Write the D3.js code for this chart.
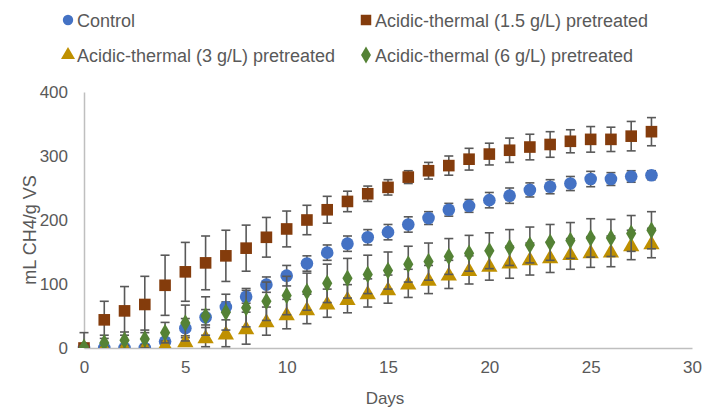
<!DOCTYPE html>
<html><head><meta charset="utf-8">
<script src="https://cdn.jsdelivr.net/npm/d3@7"></script>
<style>body{margin:0;background:#fff}svg text{font-family:"Liberation Sans",Arial,sans-serif;fill:#595959}</style>
</head><body><svg id="c" width="705" height="408"></svg>
<script>
const days = d3.range(0, 29);
const control = [0,0,0,0,10,31,48,64,80,99,113,132,149,163,173,181,193,203,216,222,231,238,247,252,257,264,264,268,270];
const controlErr = [2,2,2,3,5,15,12,8,10,12,16,12,12,12,12,12,12,10,10,10,12,12,11,11,11,12,10,9,7];
const acid15 = [0,44,58,68,98,119,133,144,156,173,186,200,216,229,241,251,267,277,285,295,303,309,314,318,323,326,326,331,338];
const acid15Err = [24,29,38,44,47,46,42,40,36,31,28,23,21,16,12,12,10,13,15,17,17,19,20,20,18,20,19,23,22];
const acid3 = [0,0,1,1,5,11,17,23,31,42,53,61,70,77,86,92,101,107,115,122,129,134,139,142,147,150,151,161,164];
const acid3Err = [2,2,3,4,6,8,15,21,25,22,23,23,22,22,22,22,22,22,22,22,23,25,25,24,24,24,24,23,23];
const acid6 = [1,8,12,14,24,39,50,56,63,73,82,88,101,109,115,121,131,135,143,148,152,157,161,165,168,172,172,179,184];
const acid6Err = [3,12,13,14,16,28,30,28,30,30,30,29,30,31,30,29,28,29,28,28,28,28,28,28,28,30,29,28,29];
const xTicks = [0,5,10,15,20,25,30];
const yTicks = [0,100,200,300,400];
const seriesNames = ["Control","Acidic-thermal (1.5 g/L) pretreated","Acidic-thermal (3 g/L) pretreated","Acidic-thermal (6 g/L) pretreated"];
const colors = ["#4472C4","#843C0C","#BF9000","#548235"];
const symbols = [d3.symbolCircle, d3.symbolSquare, d3.symbolTriangle, d3.symbolDiamond];
const symSizes = [125, 135, 115, 90];

const series = [
  {vals: control, err: controlErr},
  {vals: acid15, err: acid15Err},
  {vals: acid3, err: acid3Err},
  {vals: acid6, err: acid6Err}
];

const svg = d3.select("#c");
const x = d3.scaleLinear().domain([0,30]).range([84,692]);
const y = d3.scaleLinear().domain([0,400]).range([348,92]);

svg.append("defs").append("clipPath").attr("id","clip")
  .append("rect").attr("x",60).attr("y",60).attr("width",645).attr("height",288);

// axes
const xAxis = svg.append("g").attr("transform",`translate(0,${y(0)})`)
  .call(d3.axisBottom(x).tickValues(xTicks).tickSize(0).tickPadding(13));
xAxis.select(".domain").attr("stroke","#bfbfbf").attr("stroke-width",1.5);
xAxis.selectAll("text").style("font-size","17px").attr("fill","#595959");

const yAxis = svg.append("g").attr("transform",`translate(${x(0)},0)`)
  .call(d3.axisLeft(y).tickValues(yTicks).tickSize(0).tickPadding(16));
yAxis.select(".domain").attr("stroke","#bfbfbf").attr("stroke-width",1.5);
yAxis.selectAll("text").style("font-size","17px").attr("fill","#595959");

// series
const plot = svg.append("g").attr("clip-path","url(#clip)");
series.forEach((s, i) => {
  const g = plot.append("g");
  const eb = g.selectAll("g.eb").data(days).join("g").attr("class","eb");
  eb.append("line").attr("x1",d=>x(d)).attr("x2",d=>x(d))
    .attr("y1",d=>y(s.vals[d]+s.err[d])).attr("y2",d=>y(s.vals[d]-s.err[d]))
    .attr("stroke","#595959").attr("stroke-width",1.6);
  [1,-1].forEach(sg => {
    eb.append("line").attr("x1",d=>x(d)-4.5).attr("x2",d=>x(d)+4.5)
      .attr("y1",d=>y(s.vals[d]+sg*s.err[d])).attr("y2",d=>y(s.vals[d]+sg*s.err[d]))
      .attr("stroke","#595959").attr("stroke-width",1.6);
  });
  g.selectAll("path.m").data(days).join("path").attr("class","m")
    .attr("d", d3.symbol().type(symbols[i]).size(symSizes[i]))
    .attr("transform", d => `translate(${x(d)},${y(s.vals[d]) + (i===2?1.5:0)})`)
    .attr("fill", colors[i]);
});

// axis titles
svg.append("text").attr("x",385).attr("y",404).attr("text-anchor","middle")
  .style("font-size","17px").text("Days");
svg.append("text").attr("transform","translate(36,230) rotate(-90)").attr("text-anchor","middle")
  .style("font-size","18px").text("mL CH4/g VS");

// legend
const legPos = [[68,20],[366,20],[68,55],[366,55]];
seriesNames.forEach((n,i) => {
  const lg = svg.append("g").attr("transform",`translate(${legPos[i][0]},${legPos[i][1]})`);
  lg.append("path").attr("d", d3.symbol().type(symbols[i]).size(i===1?110:85)).attr("fill",colors[i]);
  lg.append("text").attr("x",9).attr("y",6.5).style("font-size","18px").text(n);
});
</script></body></html>
